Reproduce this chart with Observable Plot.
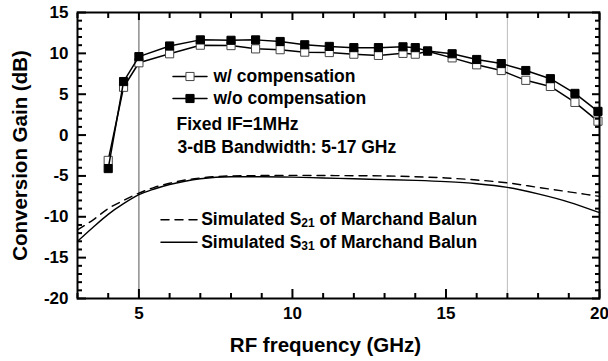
<!DOCTYPE html>
<html><head><meta charset="utf-8">
<script src="https://cdn.jsdelivr.net/npm/d3@7"></script>
<script src="https://cdn.jsdelivr.net/npm/@observablehq/plot@0.6"></script>
<style>
body{margin:0;background:#fff;}
#chart svg{font-family:"Liberation Sans",Arial,sans-serif;font-weight:bold;font-size:17px;color:#000;background:#fff;}
</style></head><body><div id="chart"></div>
<script>
// Measured conversion gain (dB) vs RF frequency (GHz)
const measFreq        = [4, 4.5, 5, 6, 7, 8, 8.8, 9.6, 10.4, 11.2, 12.0, 12.8, 13.6, 14.0, 14.4, 15.2, 16.0, 16.8, 17.6, 18.4, 19.2, 19.95];
const gainWithComp    = [-3.1, 5.85, 8.85, 9.95, 11.0, 10.95, 10.55, 10.45, 10.15, 10.1, 9.9, 9.75, 10.0, 9.9, 10.25, 9.45, 8.6, 7.9, 6.7, 5.95, 4.0, 1.7];
const gainWithoutComp = [-4.1, 6.55, 9.6, 10.9, 11.65, 11.6, 11.65, 11.45, 11.05, 10.85, 10.7, 10.7, 10.8, 10.7, 10.3, 9.95, 9.25, 8.75, 7.9, 6.9, 5.1, 2.9];
// Simulated balun transmission (dB)
const simFreq = [3, 3.5, 4, 4.5, 5, 5.5, 6, 6.5, 7, 8, 9, 10, 11, 12, 13, 14, 15, 16, 17, 18, 19, 20];
const simS21  = [-11.6, -10.4, -9.0, -8.0, -7.1, -6.4, -5.9, -5.5, -5.25, -5.0, -4.95, -4.93, -4.95, -4.97, -5.0, -5.1, -5.25, -5.5, -5.85, -6.4, -6.95, -7.5];
const simS31  = [-13.0, -11.3, -9.7, -8.4, -7.3, -6.6, -6.05, -5.65, -5.35, -5.1, -5.1, -5.15, -5.25, -5.35, -5.45, -5.55, -5.7, -5.95, -6.4, -7.2, -8.2, -9.5];
// Ticks and labels
const xMajorTicks = [5, 10, 15, 20];
const xMinorTicks = [3, 4, 6, 7, 8, 9, 11, 12, 13, 14, 16, 17, 18, 19];
const yMajorTicks = [15, 10, 5, 0, -5, -10, -15, -20];
const yMinorTicks = d3.range(-20, 16, 1).filter(v => v % 5 !== 0);
const bandEdges = [5, 17];
const xLabel = "RF frequency (GHz)";
const yLabel = "Conversion Gain (dB)";
const legendMeas = ["w/ compensation", "w/o compensation"];
const legendSim = ["Simulated S21 of Marchand Balun", "Simulated S31 of Marchand Balun"];
const notes = ["Fixed IF=1MHz", "3-dB Bandwidth: 5-17 GHz"];

const meas = measFreq.map((f, i) => ({f, w: gainWithComp[i], wo: gainWithoutComp[i]}));
const sim = simFreq.map((f, i) => ({f, s21: simS21[i], s31: simS31[i]}));

const seg = {draw(context, l) { context.moveTo(0, l / 2); context.lineTo(0, -l / 2); }};
const FS = 17.5;
const txt = (s, dx, dy, extra = {}) => Plot.text([s], {text: d => d, frameAnchor: "top-left", dx, dy, textAnchor: "start", lineAnchor: "middle", fontSize: FS, fontWeight: "bold", fill: "#000", ...extra});
const legSeg = (dx, dy, len, dash) => Plot.vector([0], {frameAnchor: "top-left", dx, dy, length: len, rotate: 90, anchor: "start", shape: seg, stroke: "#000", strokeWidth: 1.5, strokeDasharray: dash});
// inward ticks: ordinary axis ticks shifted by their own length so they point into the frame
const inX = (vals, side, len) => Plot.axisX(vals, {anchor: side, tickSize: len, dy: side === "bottom" ? -len : len, fill: null, label: null, stroke: "#000", strokeWidth: 2});
const inY = (vals, side, len) => Plot.axisY(vals, {anchor: side, tickSize: len, dx: side === "left" ? len : -len, fill: null, label: null, stroke: "#000", strokeWidth: 2});

const chart = Plot.plot({
  width: 608, height: 361,
  marginLeft: 77, marginRight: 9, marginTop: 12, marginBottom: 63,
  x: {domain: [3, 20]},
  y: {domain: [-20, 15]},
  marks: [
    Plot.ruleX(bandEdges, {stroke: (d, i) => i === 0 ? "#555" : "#bbb", strokeWidth: 1}),
    Plot.line(sim, {x: "f", y: "s21", stroke: "#000", strokeWidth: 1.4, strokeDasharray: "8,6", curve: "monotone-x"}),
    Plot.line(sim, {x: "f", y: "s31", stroke: "#000", strokeWidth: 1.4, curve: "monotone-x"}),
    Plot.line(meas, {x: "f", y: "w", stroke: "#000", strokeWidth: 1.5}),
    Plot.dot(meas, {x: "f", y: "w", symbol: "square", r: 4.6, fill: "#fff", stroke: "#444", strokeWidth: 1}),
    Plot.line(meas, {x: "f", y: "wo", stroke: "#000", strokeWidth: 1.5}),
    Plot.dot(meas, {x: "f", y: "wo", symbol: "square", r: 4.6, fill: "#000", stroke: "#000", strokeWidth: 1}),
    Plot.frame({stroke: "#000", strokeWidth: 2}),
    inX(xMinorTicks, "bottom", 5),
    inX(xMajorTicks, "bottom", 9),
    inX(xMinorTicks, "top", 5),
    inX(xMajorTicks, "top", 7),
    inY(yMinorTicks, "left", 5),
    inY(yMajorTicks, "left", 9),
    inY(yMinorTicks, "right", 5),
    inY(yMajorTicks, "right", 8),
    Plot.axisX(xMajorTicks, {anchor: "bottom", tickSize: 0, tickPadding: 8, tickFormat: d => String(d), fontSize: 17, fontWeight: "bold", label: null}),
    Plot.axisY(yMajorTicks, {anchor: "left", tickSize: 0, tickPadding: 9, tickFormat: d => String(d), fontSize: 17, fontWeight: "bold", label: null}),
    Plot.text([xLabel], {text: d => d, frameAnchor: "bottom", dx: -13, dy: 47, lineAnchor: "middle", textAnchor: "middle", fontSize: 20.5, fontWeight: "bold", fill: "#000"}),
    Plot.text([yLabel], {text: d => d, frameAnchor: "left", dx: -57, rotate: -90, lineAnchor: "middle", textAnchor: "middle", fontSize: 20.5, fontWeight: "bold", fill: "#000"}),
    // legend: measured
    legSeg(112.5, 64, 34),
    Plot.dot([0], {frameAnchor: "top-left", dx: 112.5, dy: 64, symbol: "square", r: 4.6, fill: "#fff", stroke: "#444", strokeWidth: 1}),
    txt(legendMeas[0], 136, 64),
    legSeg(112.5, 86, 34),
    Plot.dot([0], {frameAnchor: "top-left", dx: 112.5, dy: 86, symbol: "square", r: 4.6, fill: "#000", stroke: "#000", strokeWidth: 1}),
    txt(legendMeas[1], 136, 86),
    txt(notes[0], 99, 112),
    txt(notes[1], 100, 135),
    // legend: simulated
    legSeg(101.5, 207.3, 36, "8,6"),
    txt(legendSim[0], 123.7, 207.3),
    legSeg(101.5, 229.7, 36),
    txt(legendSim[1], 123.7, 229.7)
  ]
});

// Render the S-parameter indices as subscripts
const ns = "http://www.w3.org/2000/svg";
chart.querySelectorAll("text").forEach(t => {
  const m = t.textContent.match(/^(Simulated S)(\d\d)( of .*)$/);
  if (!m) return;
  t.textContent = "";
  const a = document.createElementNS(ns, "tspan"); a.textContent = m[1];
  const b = document.createElementNS(ns, "tspan"); b.textContent = m[2];
  b.setAttribute("font-size", "12"); b.setAttribute("dy", "2");
  const c = document.createElementNS(ns, "tspan"); c.textContent = m[3]; c.setAttribute("dy", "-2");
  t.append(a, b, c);
});
document.getElementById("chart").append(chart);
</script></body></html>
